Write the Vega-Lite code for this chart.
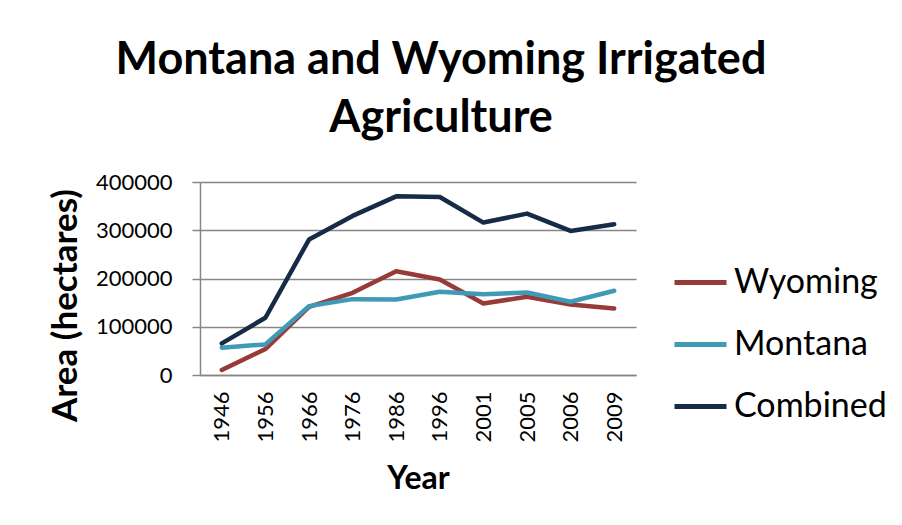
{
  "$schema": "https://vega.github.io/schema/vega-lite/v6.json",
  "width": 436,
  "height": 193,
  "autosize": "none",
  "padding": {"left": 200, "top": 182, "right": 266, "bottom": 150},
  "background": "white",
  "title": {
    "text": ["Montana and Wyoming Irrigated", "Agriculture"],
    "font": "Lato",
    "fontWeight": "bold",
    "fontSize": 45,
    "color": "black",
    "anchor": "middle",
    "dx": 23,
    "lineHeight": 58,
    "offset": 30
  },
  "config": {
    "view": {"stroke": null},
    "font": "Lato"
  },
  "data": {
    "values": [
      {"Year": "1946", "Series": "Wyoming", "Area": 10300},
      {"Year": "1956", "Series": "Wyoming", "Area": 53800},
      {"Year": "1966", "Series": "Wyoming", "Area": 141400},
      {"Year": "1976", "Series": "Wyoming", "Area": 170300},
      {"Year": "1986", "Series": "Wyoming", "Area": 215200},
      {"Year": "1996", "Series": "Wyoming", "Area": 197900},
      {"Year": "2001", "Series": "Wyoming", "Area": 148300},
      {"Year": "2005", "Series": "Wyoming", "Area": 162100},
      {"Year": "2006", "Series": "Wyoming", "Area": 146200},
      {"Year": "2009", "Series": "Wyoming", "Area": 137900},
      {"Year": "1946", "Series": "Montana", "Area": 56600},
      {"Year": "1956", "Series": "Montana", "Area": 63400},
      {"Year": "1966", "Series": "Montana", "Area": 142800},
      {"Year": "1976", "Series": "Montana", "Area": 157200},
      {"Year": "1986", "Series": "Montana", "Area": 156600},
      {"Year": "1996", "Series": "Montana", "Area": 172400},
      {"Year": "2001", "Series": "Montana", "Area": 167600},
      {"Year": "2005", "Series": "Montana", "Area": 171000},
      {"Year": "2006", "Series": "Montana", "Area": 151700},
      {"Year": "2009", "Series": "Montana", "Area": 174500},
      {"Year": "1946", "Series": "Combined", "Area": 65500},
      {"Year": "1956", "Series": "Combined", "Area": 118600},
      {"Year": "1966", "Series": "Combined", "Area": 280700},
      {"Year": "1976", "Series": "Combined", "Area": 329700},
      {"Year": "1986", "Series": "Combined", "Area": 370300},
      {"Year": "1996", "Series": "Combined", "Area": 369000},
      {"Year": "2001", "Series": "Combined", "Area": 315900},
      {"Year": "2005", "Series": "Combined", "Area": 334500},
      {"Year": "2006", "Series": "Combined", "Area": 298600},
      {"Year": "2009", "Series": "Combined", "Area": 312400}
    ]
  },
  "mark": {"type": "line", "strokeWidth": 4.5, "strokeCap": "round", "strokeJoin": "round"},
  "encoding": {
    "x": {
      "field": "Year",
      "type": "ordinal",
      "scale": {"type": "point", "padding": 0.5},
      "axis": {
        "title": "Year",
        "titleFont": "Lato",
        "titleFontWeight": "bold",
        "titleFontSize": 32,
        "titleColor": "black",
        "titleBaseline": "middle",
        "titleY": 103,
        "labelAngle": 270,
        "labelAlign": "right",
        "labelBaseline": "middle",
        "labelFontSize": 22,
        "labelColor": "black",
        "labelPadding": 16,
        "ticks": false,
        "domainColor": "#868686",
        "domainWidth": 1.5,
        "grid": false
      }
    },
    "y": {
      "field": "Area",
      "type": "quantitative",
      "scale": {"domain": [0, 400000]},
      "axis": {
        "title": "Area (hectares)",
        "titleFont": "Lato",
        "titleFontWeight": "bold",
        "titleFontSize": 35,
        "titleColor": "black",
        "titleBaseline": "middle",
        "titleX": -135,
        "titleY": 123,
        "titleAngle": 270,
        "values": [0, 100000, 200000, 300000, 400000],
        "format": "d",
        "labelFontSize": 22,
        "labelColor": "black",
        "labelPadding": 20,
        "tickSize": 8,
        "tickColor": "#868686",
        "tickWidth": 1.5,
        "domainColor": "#868686",
        "domainWidth": 1.5,
        "grid": true,
        "gridColor": "#868686",
        "gridWidth": 1.5
      }
    },
    "color": {
      "field": "Series",
      "type": "nominal",
      "sort": ["Wyoming", "Montana", "Combined"],
      "scale": {
        "domain": ["Wyoming", "Montana", "Combined"],
        "range": ["#983a37", "#3f9ab6", "#152b47"]
      },
      "legend": {
        "title": null,
        "orient": "none",
        "legendX": 472,
        "legendY": 72,
        "padding": 0,
        "symbolType": "stroke",
        "symbolSize": 2704,
        "symbolStrokeWidth": 5,
        "labelFontSize": 34,
        "labelColor": "black",
        "labelOffset": 5,
        "rowPadding": 16
      }
    }
  }
}
